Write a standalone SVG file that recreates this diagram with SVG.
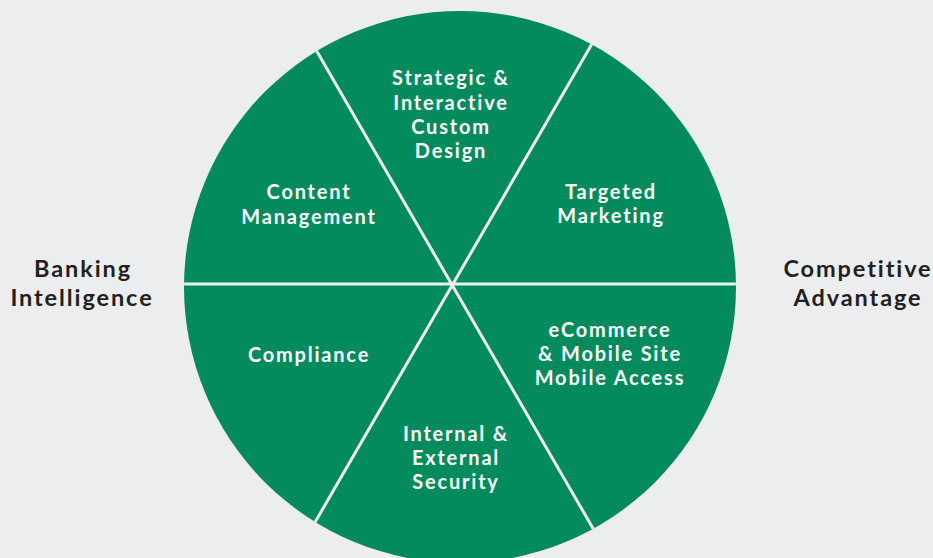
<svg xmlns="http://www.w3.org/2000/svg" width="933" height="558" viewBox="0 0 933 558">
<style>
.seg{font-family:Lato,"Open Sans","Liberation Sans",sans-serif;font-weight:700;font-size:20px;fill:#ffffff;text-anchor:middle;letter-spacing:1.8px}
.side{font-family:Lato,"Open Sans","Liberation Sans",sans-serif;font-weight:700;font-size:23.5px;fill:#231f20;text-anchor:middle;letter-spacing:1.9px}
.div{stroke:#eceef0;stroke-width:3;fill:none}
</style>
<defs>
<clipPath id="c"><circle cx="460" cy="287" r="276"/></clipPath>
</defs>
<rect width="933" height="558" fill="#ecedef"/>
<g id="wheel">
<circle cx="460" cy="287" r="276" fill="#038b5e"/>
</g>
<g id="connectors" clip-path="url(#c)">
<line class="div" x1="180" y1="284" x2="740" y2="284"/>
<line class="div" x1="315.5" y1="49" x2="594.5" y2="531"/>
<line class="div" x1="593" y1="42" x2="314" y2="524"/>
</g>
<g id="strategic"><text class="seg"><tspan x="451" y="85">Strategic &amp;</tspan><tspan x="451" y="110">Interactive</tspan><tspan x="451" y="134">Custom</tspan><tspan x="451" y="158">Design</tspan></text></g>
<g id="content"><text class="seg"><tspan x="309" y="199">Content</tspan><tspan x="309" y="224">Management</tspan></text></g>
<g id="targeted"><text class="seg"><tspan x="611" y="199">Targeted</tspan><tspan x="611" y="223">Marketing</tspan></text></g>
<g id="compliance"><text class="seg"><tspan x="309" y="362">Compliance</tspan></text></g>
<g id="ecommerce"><text class="seg"><tspan x="610" y="337">eCommerce</tspan><tspan x="610" y="361">&amp; Mobile Site</tspan><tspan x="610" y="385">Mobile Access</tspan></text></g>
<g id="security"><text class="seg"><tspan x="456" y="441">Internal &amp;</tspan><tspan x="456" y="465">External</tspan><tspan x="456" y="489">Security</tspan></text></g>
<g id="banking"><text class="side"><tspan x="83" y="277">Banking</tspan><tspan x="82" y="306">Intelligence</tspan></text></g>
<g id="competitive"><text class="side"><tspan x="858" y="277">Competitive</tspan><tspan x="858" y="306">Advantage</tspan></text></g>
</svg>
